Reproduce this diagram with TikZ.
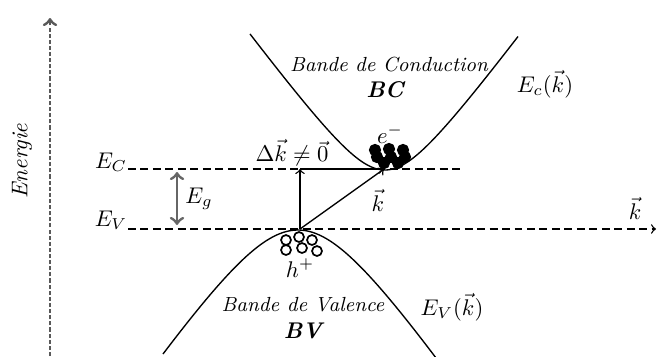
\documentclass[tikz,border=0pt]{standalone}

\newcommand*{\xmin}{0}
\newcommand*{\xmax}{657}
\newcommand*{\ymin}{0}
\newcommand*{\ymax}{356}
\newcommand*{\Ec}{169}
\newcommand*{\Ev}{229}

\begin{document}
\begin{tikzpicture}
[
	x=0.0155cm, y=-0.0155cm,
	every node/.style={inner sep=1pt},
	level/.style={dash pattern=on 3.5pt off 2pt, line width=0.6pt},
	band/.style={line width=0.6pt, smooth, samples=60},
	elec/.style={circle,draw,fill,inner sep=0pt,minimum size=5pt},
	hole/.style={circle,draw,line width=0.75pt,inner sep=0pt,minimum size=4.4pt},
	bandtext/.style={font=\small\itshape}
]
	\useasboundingbox (\xmin,\ymin) rectangle (\xmax,\ymax);

	% energy axis
	\coordinate (ybot) at (50,\ymax);
	\coordinate (ytop) at (50,18);
	\draw[->, gray!70!black, line width=1.3pt, dash pattern=on 1.8pt off 0.9pt] (ybot) -- (ytop);
	\node[rotate=90, font=\itshape] (energie) at (22,161) {Energie};

	% levels
	\node (lEc) at (111,162) {$E_C$};
	\node (lEv) at (111,220) {$E_V$};
	\coordinate (ecl) at (128,\Ec);
	\coordinate (ecr) at (462,\Ec);
	\coordinate (evl) at (128,\Ev);
	\coordinate (evr) at (656,\Ev);
	\draw[level] (ecl) -- (ecr);
	\draw[level,->] (evl) -- (evr);
	\node (kaxis) at (635,208) {$\vec{k}$};

	% gap
	\coordinate (gtop) at (177,172);
	\coordinate (gbot) at (177,225);
	\draw[<->, gray!80!black, line width=1.3pt] (gtop) -- (gbot);
	\node (lEg) at (199,199) {$E_g$};

	% conduction band
	\draw[band, domain=-135:133] plot ({385+\x},{170-54*(sqrt(1+(\x/40)^2)-1)});
	\node[bandtext] (bc) at (389,65) {Bande de Conduction};
	\node[font=\bfseries\itshape] (bcs) at (385,90) {BC};
	\node (lEck) at (545,84) {$E_c(\vec{k})$};

	% valence band
	\draw[band, domain=-135:140] plot ({298+\x},{230+95*(sqrt(1+(\x/65)^2)-1)});
	\node[bandtext] (bv) at (303,305) {Bande de Valence};
	\node[font=\bfseries\itshape] (bvs) at (303,331) {BV};
	\node (lEvk) at (452,307) {$E_V(\vec{k})$};

	% electrons
	\foreach \n/\x/\y in {1/375/150,2/389/149,3/403/150,4/377/157,5/391/157,6/405/157,7/384/163,8/398/163} {
		\node[elec] (e\n) at (\x,\y) {};
	}
	\node (lel) at (390,134) {$e^-$};

	% holes
	\foreach \n/\x/\y in {1/286/240,2/299/237,3/312/240,4/286/250,5/302/248,6/317/251} {
		\node[hole] (h\n) at (\x,\y) {};
	}
	\node (lho) at (300,268) {$h^+$};

	% transition
	\coordinate (vmax) at (300,\Ev);
	\coordinate (corner) at (300,\Ec);
	\coordinate (cmin) at (384,\Ec);
	\draw[->, semithick] (vmax) -- (corner);
	\draw[->, semithick] (corner) -- (cmin);
	\draw[->, semithick] (vmax) -- (cmin);
	\node (dk) at (292,153) {$\Delta\vec{k} \neq \vec{0}$};
	\node (kv) at (378,200) {$\vec{k}$};

\end{tikzpicture}
\end{document}
